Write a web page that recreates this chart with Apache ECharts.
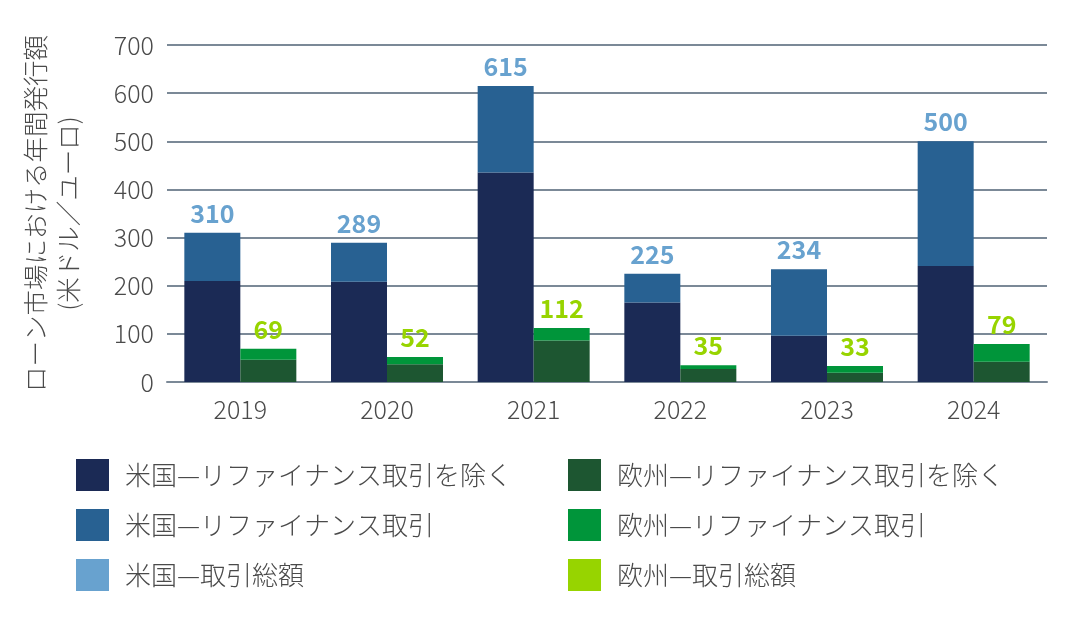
<!DOCTYPE html>
<html><head><meta charset="utf-8">
<script src="https://cdn.jsdelivr.net/npm/echarts@6/dist/echarts.min.js"></script>
<style>html,body{margin:0;padding:0;background:#fff}#c{width:1076px;height:622px}</style>
</head><body><div id="c"></div>
<script>
const years = ['2019','2020','2021','2022','2023','2024'];
const usNonRefi = [210, 208, 435, 165, 96, 241];
const usRefi    = [100, 81, 180, 60, 138, 259];
const usTotal   = [310, 289, 615, 225, 234, 500];
const euNonRefi = [46, 37, 86, 27, 19, 42];
const euRefi    = [23, 15, 26, 8, 14, 37];
const euTotal   = [69, 52, 112, 35, 33, 79];
const yTicks = [0,100,200,300,400,500,600,700];

const names = ['米国—リファイナンス取引を除く','米国—リファイナンス取引','米国—取引総額',
               '欧州—リファイナンス取引を除く','欧州—リファイナンス取引','欧州—取引総額'];
const colors = ['#1b2a55','#286192','#68a2cf','#1d5631','#00953a','#97d400'];
const FONT = '"Noto Sans CJK JP", "Noto Sans", sans-serif';
const TXT = '#4a4a4a';

function bar(name, data, stack, color){
  return {name, type:'bar', stack, data, barWidth:56, barGap:'0%', barCategoryGap:'24%',
    itemStyle:{color}, emphasis:{disabled:true}};
}
function totalSeries(name, totals, stack, color){
  return {name, type:'bar', stack, data: totals.map(()=>0), barWidth:56, barGap:'0%',
    itemStyle:{color}, emphasis:{disabled:true},
    label:{show:true, position:'top', distance:7, color, fontFamily:FONT, fontWeight:'bold', fontSize:25,
      formatter:(p)=>String(totals[p.dataIndex])}};
}
const legendText = {fontSize:26, color:TXT, fontFamily:FONT, fontWeight:300, padding:[0,0,0,11]};

const chart = echarts.init(document.getElementById('c'));
chart.setOption({
  animation:false,
  textStyle:{fontFamily:FONT},
  grid:{left:167, right:29, top:45, bottom:240, containLabel:false},
  legend:[
    {data:names.slice(0,3), orient:'vertical', left:76, top:459, padding:0, itemWidth:33, itemHeight:32, itemGap:18,
     icon:'rect', textStyle:legendText, selectedMode:false},
    {data:names.slice(3,6), orient:'vertical', left:568, top:459, padding:0, itemWidth:33, itemHeight:32, itemGap:18,
     icon:'rect', textStyle:legendText, selectedMode:false}
  ],
  xAxis:{type:'category', data:years,
    axisLine:{show:true, lineStyle:{color:'#7b8997', width:2}}, axisTick:{show:false},
    axisLabel:{fontSize:25, color:TXT, margin:15, fontFamily:FONT, fontWeight:300}},
  yAxis:{type:'value', min:yTicks[0], max:yTicks[yTicks.length-1], interval:100,
    name:'ローン市場における年間発行額\n(米ドル／ユーロ)', nameLocation:'middle', nameRotate:90, nameGap:82,
    nameTextStyle:{fontSize:25.5, color:TXT, lineHeight:33, fontFamily:FONT, fontWeight:300},
    axisLine:{show:false}, axisTick:{show:false},
    axisLabel:{fontSize:25, color:TXT, margin:13, fontFamily:FONT, fontWeight:300},
    splitLine:{lineStyle:{color:'#7b8997', width:2}}},
  series:[
    bar(names[0], usNonRefi, 'us', colors[0]),
    bar(names[1], usRefi, 'us', colors[1]),
    totalSeries(names[2], usTotal, 'us', colors[2]),
    bar(names[3], euNonRefi, 'eu', colors[3]),
    bar(names[4], euRefi, 'eu', colors[4]),
    totalSeries(names[5], euTotal, 'eu', colors[5])
  ]
});
</script></body></html>
